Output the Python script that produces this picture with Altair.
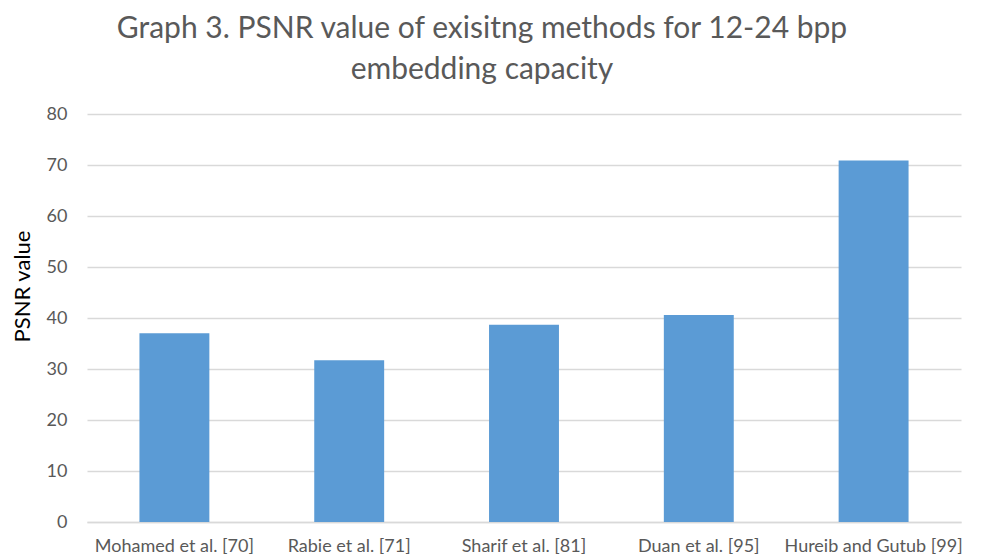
import altair as alt
import pandas as pd

methods = ["Mohamed et al. [70]", "Rabie et al. [71]", "Sharif et al. [81]",
           "Duan et al. [95]", "Hureib and Gutub [99]"]
psnr = [37.0, 31.7, 38.7, 40.6, 70.9]

df = pd.DataFrame({"method": methods, "psnr": psnr})

FONT = "Lato"
GREY = "#595959"

chart = alt.Chart(df).mark_bar(color="#5b9bd5").encode(
    x=alt.X("method:N", sort=methods, title=None,
            scale=alt.Scale(paddingInner=0.6, paddingOuter=0.3),
            axis=alt.Axis(labelAngle=0, labelFontSize=18, labelColor=GREY,
                          labelFont=FONT, ticks=False, tickSize=0,
                          labelPadding=15, labelOverlap=False,
                          domainColor="#d9d9d9", domainWidth=1.3, grid=False)),
    y=alt.Y("psnr:Q", title="PSNR value",
            scale=alt.Scale(domain=[0, 80]),
            axis=alt.Axis(values=[0, 10, 20, 30, 40, 50, 60, 70, 80],
                          labelFontSize=18, labelColor=GREY, labelFont=FONT,
                          ticks=False, tickSize=0, labelPadding=20,
                          domain=False, gridColor="#d9d9d9", gridWidth=1.3,
                          titleFont=FONT, titleFontSize=22, titleColor="#000000",
                          titleFontWeight="normal", titleX=-65, titleY=172,
                          titleAlign="center", titleBaseline="middle")),
).properties(
    width=874, height=408,
    title=alt.TitleParams(
        text=["Graph 3. PSNR value of exisitng methods for 12-24 bpp",
              "embedding capacity"],
        font=FONT, fontSize=30, color=GREY, fontWeight="normal",
        anchor="middle", dx=-42, offset=20, lineHeight=41),
    autosize=alt.AutoSizeParams(type="none"),
    padding={"left": 79, "top": 106, "right": 15, "bottom": 36},
).configure_view(stroke=None)

chart.save("out.html", embed_options={"renderer": "svg", "actions": False})
